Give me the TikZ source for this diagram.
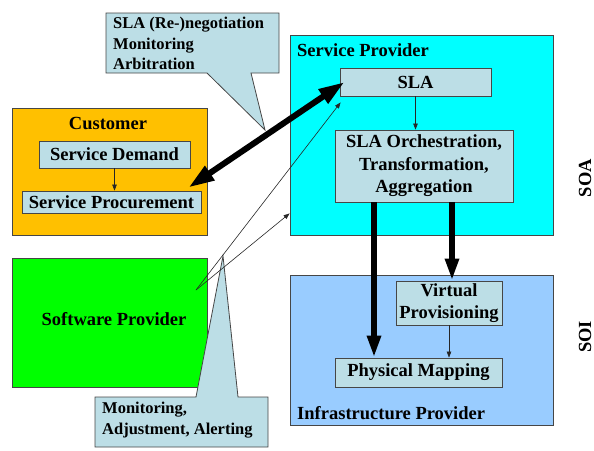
\documentclass[tikz,border=0pt]{standalone}
\usepackage{fontspec}
\setmainfont{Liberation Serif}
\usetikzlibrary{arrows.meta}
\definecolor{custorange}{RGB}{255,192,0}
\definecolor{spcyan}{RGB}{0,255,255}
\definecolor{infblue}{RGB}{153,204,255}
\definecolor{swgreen}{RGB}{0,255,0}
\definecolor{innerfill}{RGB}{188,222,230}
\definecolor{edge}{RGB}{70,70,70}
\tikzset{
  bigbox/.style={draw=edge, line width=0.8pt, inner sep=0pt},
  innerbox/.style={draw=edge, line width=0.8pt, fill=innerfill, inner sep=0pt,
    font=\fontsize{18.5}{22.5}\selectfont\bfseries, align=center},
  titletext/.style={inner sep=0pt, font=\fontsize{18.5}{22.5}\selectfont\bfseries},
  callout/.style={draw=edge, line width=0.8pt, fill=innerfill},
  callouttext/.style={inner sep=0pt, align=left, font=\fontsize{16.5}{20.5}\selectfont\bfseries},
  thinarrow/.style={draw=black!85, line width=0.6pt, -{Triangle[length=6pt,width=4.5pt]}},
  thickarrow/.style={draw=black, line width=5.5pt, -{Triangle[length=22pt,width=13pt]}},
  dblarrow/.style={draw=black, line width=6pt, {Triangle[length=26pt,width=16pt]}-{Triangle[length=26pt,width=16pt]}},
}
\begin{document}
\begin{tikzpicture}[x=1pt,y=-1pt]
\useasboundingbox (0,0) rectangle (594,450);
% big boxes
\node[bigbox, fill=custorange, minimum width=195pt, minimum height=127pt] (cust) at (109.5,171.5) {};
\node[bigbox, fill=swgreen, minimum width=195pt, minimum height=129pt] (soft) at (109.5,322.5) {};
\node[bigbox, fill=spcyan, minimum width=263pt, minimum height=200pt] (spbox) at (421.5,135) {};
\node[bigbox, fill=infblue, minimum width=263pt, minimum height=150pt] (infra) at (421.5,350) {};
% titles
\node[titletext] (custt) at (108,123) {Customer};
\node[titletext, anchor=west] (spt) at (297,50) {Service Provider};
\node[titletext] (softt) at (114,319) {Software Provider};
\node[titletext, anchor=west] (inft) at (297,413) {Infrastructure Provider};
% inner boxes
\node[innerbox, minimum width=151pt, minimum height=27pt] (sd) at (114.5,154.5) {Service Demand};
\node[innerbox, minimum width=179pt, minimum height=22pt] (sproc) at (111.5,202) {Service Procurement};
\node[innerbox, minimum width=151pt, minimum height=28pt] (sla) at (415.5,82) {SLA};
\node[innerbox, minimum width=178pt, minimum height=72pt] (orch) at (424,166) {SLA Orchestration,\\Transformation,\\Aggregation};
\node[innerbox, minimum width=106pt, minimum height=44pt] (virt) at (449,303) {Virtual\\Provisioning};
\node[innerbox, minimum width=167pt, minimum height=29pt] (phys) at (418.5,372.5) {Physical Mapping};
% callouts
\path[callout] (106,13) -- (279,13) -- (279,73) -- (251,73) -- (265,130) -- (207,73) -- (106,73) -- cycle;
\node[callouttext, anchor=north west] (slact) at (113,17) {SLA (Re-)negotiation\\Monitoring\\Arbitration};
\path[callout] (95,397) -- (196,397) -- (223,256) -- (238,397) -- (268,397) -- (268,447) -- (95,447) -- cycle;
\node[callouttext, anchor=north west] (monct) at (102,402) {Monitoring,\\Adjustment, Alerting};
% side labels
\node[titletext, rotate=90] (soa) at (585,178) {SOA};
\node[titletext, rotate=90] (soi) at (585,337) {SOI};
% thin arrows
\draw[thinarrow] (sd.south) -- (sd.south |- sproc.north);
\draw[thinarrow] (sla.south) -- (sla.south |- orch.north);
\draw[thinarrow] (virt.south) -- (virt.south |- phys.north);
\coordinate (swp) at (196,290);
\draw[thinarrow] (swp) -- ([xshift=1pt,yshift=-6pt]sla.south west);
\draw[thinarrow] (swp) -- ([yshift=22pt]spbox.south west);
% thick arrows
\coordinate (o1) at ([xshift=-50pt]orch.south);
\coordinate (o2) at ([xshift=28pt]orch.south);
\draw[thickarrow] (o1) -- (o1 |- phys.north);
\draw[thickarrow] (o2) -- (o2 |- virt.north);
\draw[dblarrow] ([xshift=-13pt,yshift=3pt]sproc.north east) -- ([xshift=5pt]sla.west);
\end{tikzpicture}
\end{document}
